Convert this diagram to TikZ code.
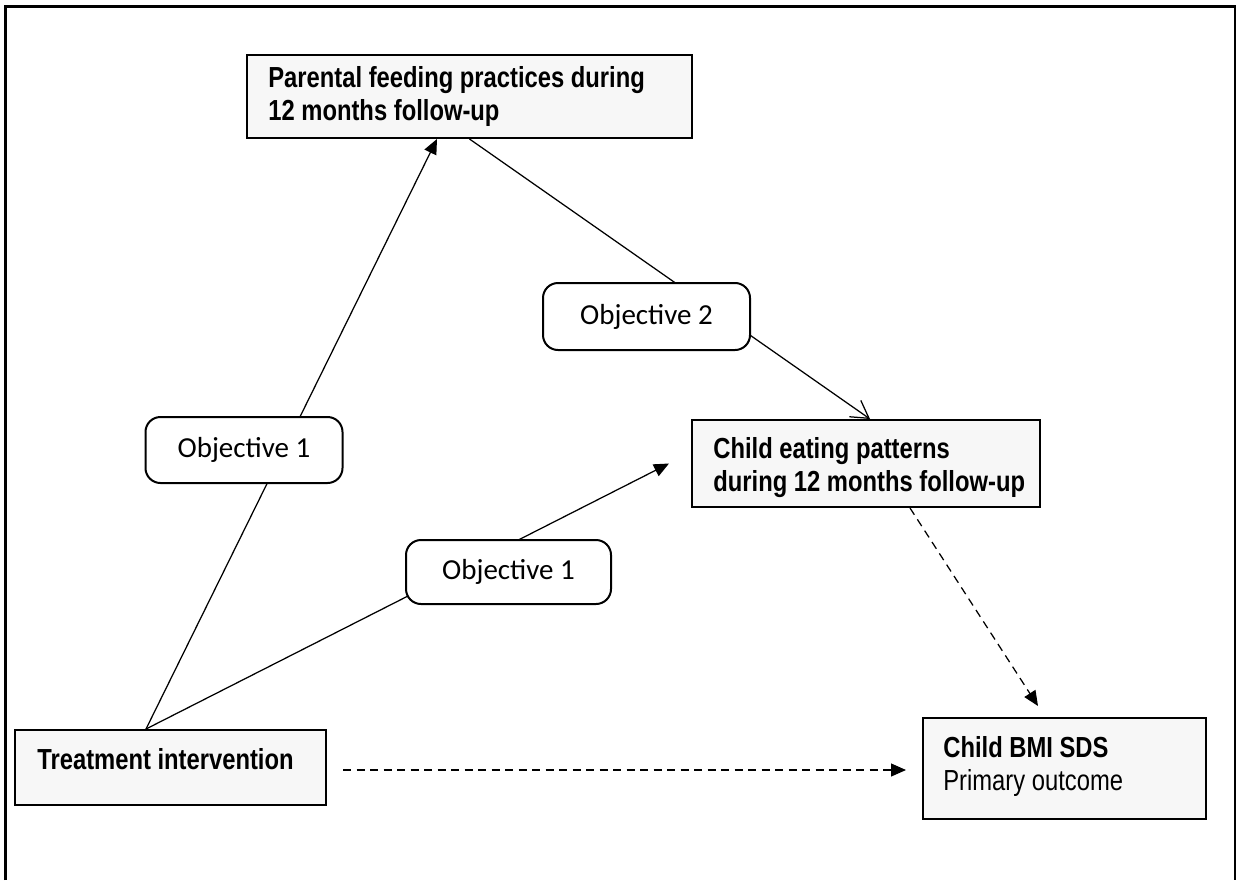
\documentclass[tikz,border=0pt]{standalone}
\usepackage{fontspec}
\newfontfamily\narrow{Liberation Sans}[FakeStretch=0.82]
\newfontfamily\calib{Carlito}
\usetikzlibrary{arrows.meta}
\definecolor{boxfill}{HTML}{F7F7F7}
\begin{document}
\begin{tikzpicture}[x=0.2mm,y=-0.2mm,
  mainbox/.style={draw, line width=0.4mm, fill=boxfill, inner sep=0pt},
  objbox/.style={draw, line width=0.4mm, fill=white, rounded corners=3mm, inner sep=0pt,
    font=\calib\fontsize{16.5}{19}\selectfont},
  btext/.style={inner sep=0pt, anchor=base west, font=\narrow\fontsize{16.5}{19}\selectfont},
  conn/.style={line width=0.25mm},
  solidtip/.style={-{Triangle[length=3mm,width=2.6mm]}},
  opentip/.style={-{Straight Barb[length=3.4mm,width=4mm,line width=0.25mm]}},
  dashline/.style={dash pattern=on 1.6mm off 1.1mm}
]
\useasboundingbox (0,0) rectangle (1236,880);
\draw[line width=0.6mm, line join=miter] (5,880) -- (5,6) -- (1235,6) -- (1235,880);

% main boxes
\node[mainbox, minimum width=89mm, minimum height=16.6mm] (par) at (469.5,96.5) {};
\node[mainbox, minimum width=69.6mm, minimum height=17.4mm] (eat) at (866,463.5) {};
\node[mainbox, minimum width=62.2mm, minimum height=15mm] (treat) at (170.5,767.5) {};
\node[mainbox, minimum width=56.6mm, minimum height=20.2mm] (bmi) at (1064.5,768.5) {};

% texts
\node[btext] (partxt) at (268,87) {\begin{tabular}[t]{@{}l@{}}\bfseries Parental feeding practices during\\\bfseries 12 months follow-up\end{tabular}};
\node[btext] (eattxt) at (713,458) {\begin{tabular}[t]{@{}l@{}}\bfseries Child eating patterns\\\bfseries during 12 months follow-up\end{tabular}};
\node[btext] (treattxt) at (37,769) {\bfseries Treatment intervention};
\node[btext] (bmitxt) at (943,757) {\begin{tabular}[t]{@{}l@{}}\bfseries Child BMI SDS\\Primary outcome\end{tabular}};

% connectors
\draw[conn, solidtip] ([xshift=-4.9mm]treat.north) -- ([xshift=-6.5mm]par.south);
\draw[conn, solidtip] ([xshift=-4.9mm]treat.north) -- ([xshift=-4.4mm]eat.west);
\draw[conn, opentip] (par.south) -- ([xshift=0.8mm]eat.north);
\draw[conn, dashline, solidtip] ([xshift=8.8mm]eat.south) -- ([xshift=-5.3mm,yshift=2.2mm]bmi.north);
\draw[conn, dashline, solidtip] ([xshift=3.2mm,yshift=-0.5mm]treat.east) -- ([xshift=-3.2mm,yshift=-0.3mm]bmi.west);

% objective labels
\node[objbox, minimum width=41.4mm, minimum height=13.4mm] (obj2) at (646.5,316.5) {Objective 2};
\node[objbox, minimum width=39.4mm, minimum height=13.2mm] (obj1a) at (244,450) {Objective 1};
\node[objbox, minimum width=41mm, minimum height=12.8mm] (obj1b) at (508.5,572) {Objective 1};
\end{tikzpicture}
\end{document}
